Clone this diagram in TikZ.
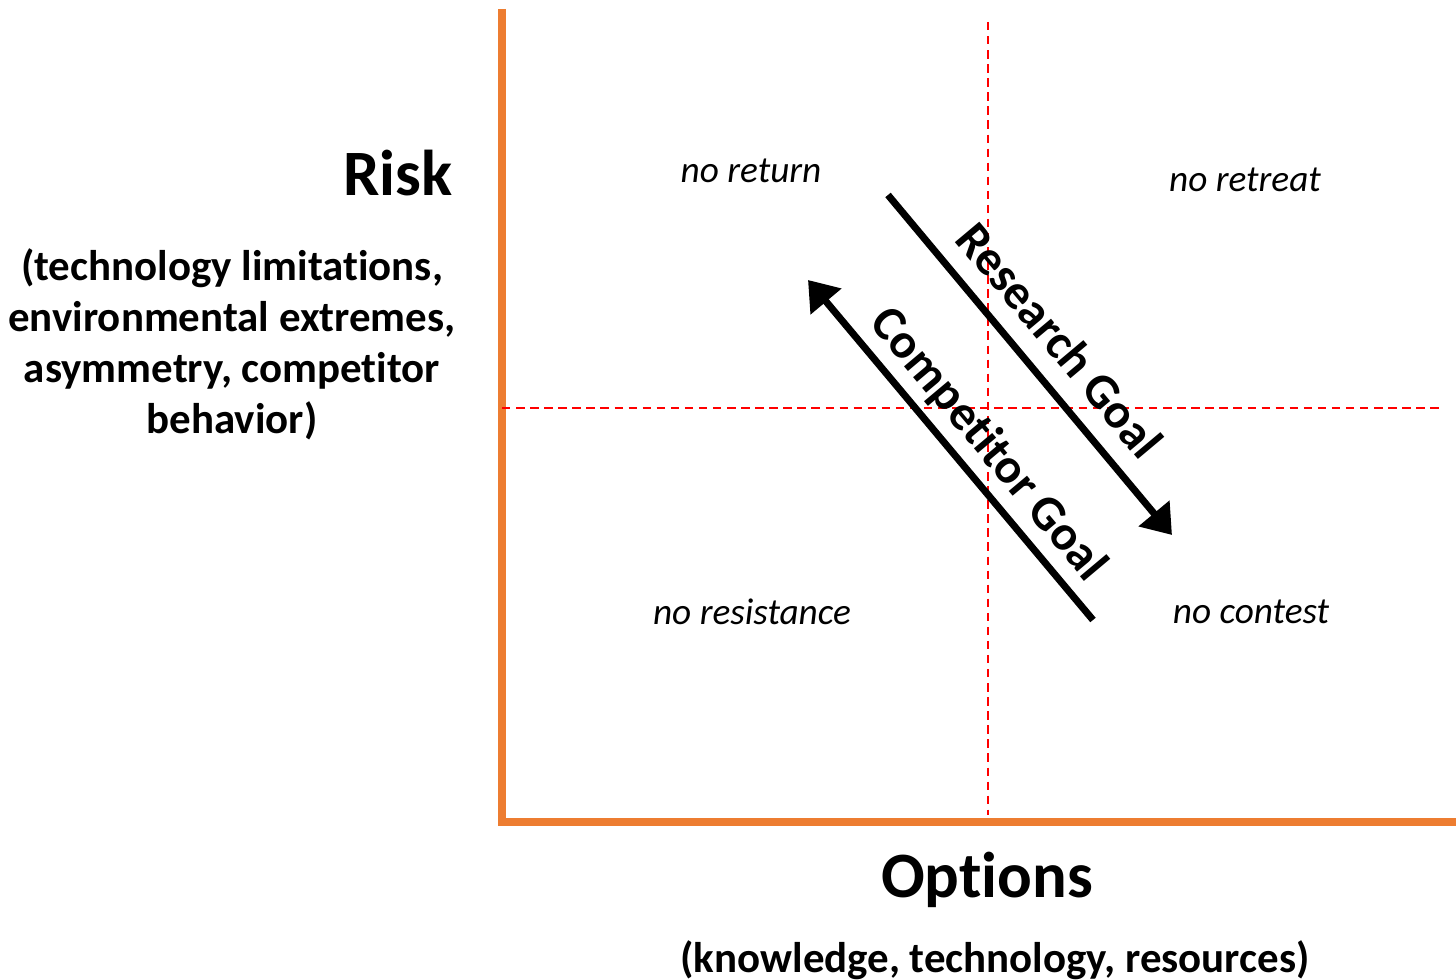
\documentclass[tikz,border=0pt]{standalone}
\usepackage{fontspec}
\setmainfont[Ligatures={NoCommon,NoRequired,NoContextual}, Contextuals=NoAlternate]{Carlito}
\usetikzlibrary{arrows.meta}

\definecolor{axisorange}{HTML}{ED7D31}

\begin{document}
\begin{tikzpicture}[x=0.01cm, y=-0.01cm,
        axis/.style={draw=axisorange, line width=2pt},
        quad/.style={draw=red, line width=0.6pt, dash pattern=on 2.4pt off 1.6pt}]
            \tikzset{title/.style = {font=\bfseries\fontsize{18.4}{22}\selectfont}}
            \tikzset{note/.style = {font=\bfseries\fontsize{12.2}{14.5}\selectfont, align=center}}
            \tikzset{zone/.style = {font=\itshape\fontsize{10.6}{12}\selectfont}}
            \tikzset{goal/.style = {font=\bfseries\fontsize{14}{17}\selectfont, rotate=-50}}
            \tikzset{edge/.style = {-{Triangle[length=8pt,width=11pt]}, line width=2pt}}

            \useasboundingbox (0,0) rectangle (1456,980);

            % axes
            \coordinate (ytop) at (502,9);
            \coordinate (origin) at (502,822);
            \coordinate (xend) at (1456,822);
            \draw [axis, line join=miter] (ytop) -- (origin) -- (xend);

            % quadrant lines
            \coordinate (vtop) at (988,22);
            \coordinate (vbot) at (988,815);
            \coordinate (hleft) at (502,408);
            \coordinate (hright) at (1444,408);
            \draw [quad] (vtop) -- (vbot);
            \draw [quad] (hleft) -- (hright);

            % axis titles
            \node[title, anchor=east, inner sep=0pt] (risk) at (453,173) {Risk};
            \node[note] (riskfactors) at (232,344) {(technology limitations,\\environmental extremes,\\asymmetry, competitor\\behavior)};
            \node[title] (options) at (987,880) {Options};
            \node[note] (optionfactors) at (995,960) {(knowledge, technology, resources)};

            % quadrants
            \node[zone] (noreturn) at (751,171) {no return};
            \node[zone] (noretreat) at (1245,180) {no retreat};
            \node[zone] (noresistance) at (752,612) {no resistance};
            \node[zone] (nocontest) at (1251,612) {no contest};

            % goals
            \coordinate (rstart) at (888,195);
            \coordinate (rend) at (1172,535);
            \coordinate (cstart) at (1093,620);
            \coordinate (cend) at (808,280);
            \draw [edge] (rstart) to (rend);
            \draw [edge] (cstart) to (cend);
            \node[goal] (research) at (1060,340) {Research Goal};
            \node[goal] (competitor) at (988,445) {Competitor Goal};

\end{tikzpicture}
\end{document}
